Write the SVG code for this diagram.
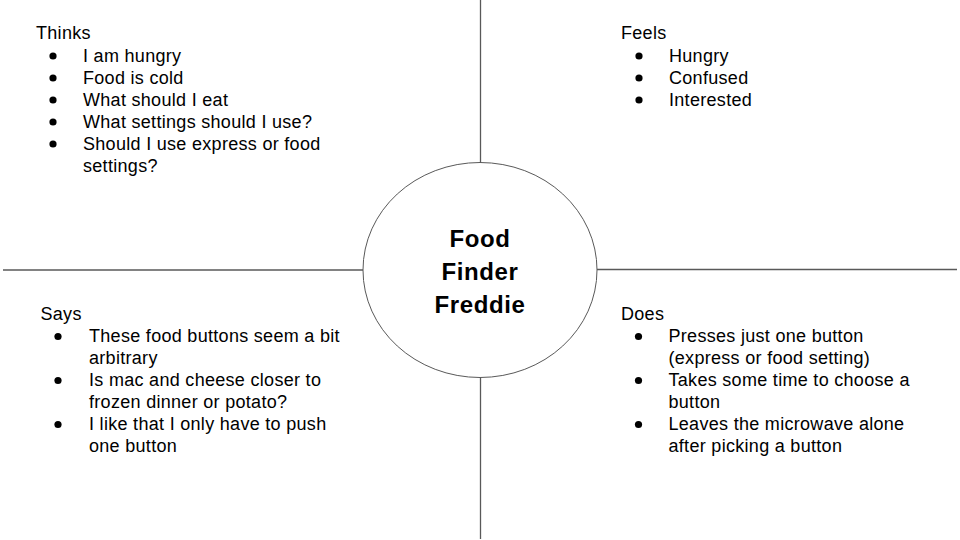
<svg xmlns="http://www.w3.org/2000/svg" width="960" height="540" viewBox="0 0 960 540">
<style>
.t{font-family:"Liberation Sans",Arial,sans-serif;font-size:18px;letter-spacing:0.3px;fill:#000}
.c{font-family:"Liberation Sans",Arial,sans-serif;font-size:24px;letter-spacing:0.6px;font-weight:bold;fill:#000;text-anchor:middle}
.ln{stroke:#595959;stroke-width:1.3;fill:none}
.b{fill:#000}
</style>
<rect width="960" height="540" fill="#fff"/>
<g id="connectors">
<line class="ln" x1="480.5" y1="0" x2="480.5" y2="163"/>
<line class="ln" x1="480.5" y1="377" x2="480.5" y2="539"/>
<line class="ln" x1="3" y1="270" x2="363" y2="270"/>
<line class="ln" x1="597" y1="269.5" x2="957" y2="269.5"/>
</g>
<g id="center">
<ellipse cx="480" cy="270" rx="117" ry="107.5" fill="#fff" stroke="#595959" stroke-width="1"/>
<text class="c" x="480" y="246.5">Food</text>
<text class="c" x="480" y="279.5">Finder</text>
<text class="c" x="480" y="312.5">Freddie</text>
</g>
<g id="thinks">
<text class="t" x="36" y="39">Thinks</text>
<circle class="b" cx="53" cy="56" r="3.6"/>
<circle class="b" cx="53" cy="78" r="3.6"/>
<circle class="b" cx="53" cy="100" r="3.6"/>
<circle class="b" cx="53" cy="122" r="3.6"/>
<circle class="b" cx="53" cy="144" r="3.6"/>
<text class="t" x="83" y="61.5">I am hungry</text>
<text class="t" x="83" y="83.5">Food is cold</text>
<text class="t" x="83" y="105.5">What should I eat</text>
<text class="t" x="83" y="127.5">What settings should I use?</text>
<text class="t" x="83" y="149.5">Should I use express or food</text>
<text class="t" x="83" y="171.5">settings?</text>
</g>
<g id="feels">
<text class="t" x="621" y="39">Feels</text>
<circle class="b" cx="639" cy="56" r="3.6"/>
<circle class="b" cx="639" cy="78" r="3.6"/>
<circle class="b" cx="639" cy="100" r="3.6"/>
<text class="t" x="669" y="61.5">Hungry</text>
<text class="t" x="669" y="83.5">Confused</text>
<text class="t" x="669" y="105.5">Interested</text>
</g>
<g id="says">
<text class="t" x="40.5" y="320">Says</text>
<circle class="b" cx="58" cy="336.5" r="3.6"/>
<circle class="b" cx="58" cy="380.5" r="3.6"/>
<circle class="b" cx="58" cy="424.5" r="3.6"/>
<text class="t" x="89" y="342">These food buttons seem a bit</text>
<text class="t" x="89" y="364">arbitrary</text>
<text class="t" x="89" y="386">Is mac and cheese closer to</text>
<text class="t" x="89" y="408">frozen dinner or potato?</text>
<text class="t" x="89" y="430">I like that I only have to push</text>
<text class="t" x="89" y="452">one button</text>
</g>
<g id="does">
<text class="t" x="621" y="320">Does</text>
<circle class="b" cx="638.5" cy="336.5" r="3.6"/>
<circle class="b" cx="638.5" cy="380.5" r="3.6"/>
<circle class="b" cx="638.5" cy="424.5" r="3.6"/>
<text class="t" x="668.5" y="342">Presses just one button</text>
<text class="t" x="668.5" y="364">(express or food setting)</text>
<text class="t" x="668.5" y="386">Takes some time to choose a</text>
<text class="t" x="668.5" y="408">button</text>
<text class="t" x="668.5" y="430">Leaves the microwave alone</text>
<text class="t" x="668.5" y="452">after picking a button</text>
</g>
</svg>
